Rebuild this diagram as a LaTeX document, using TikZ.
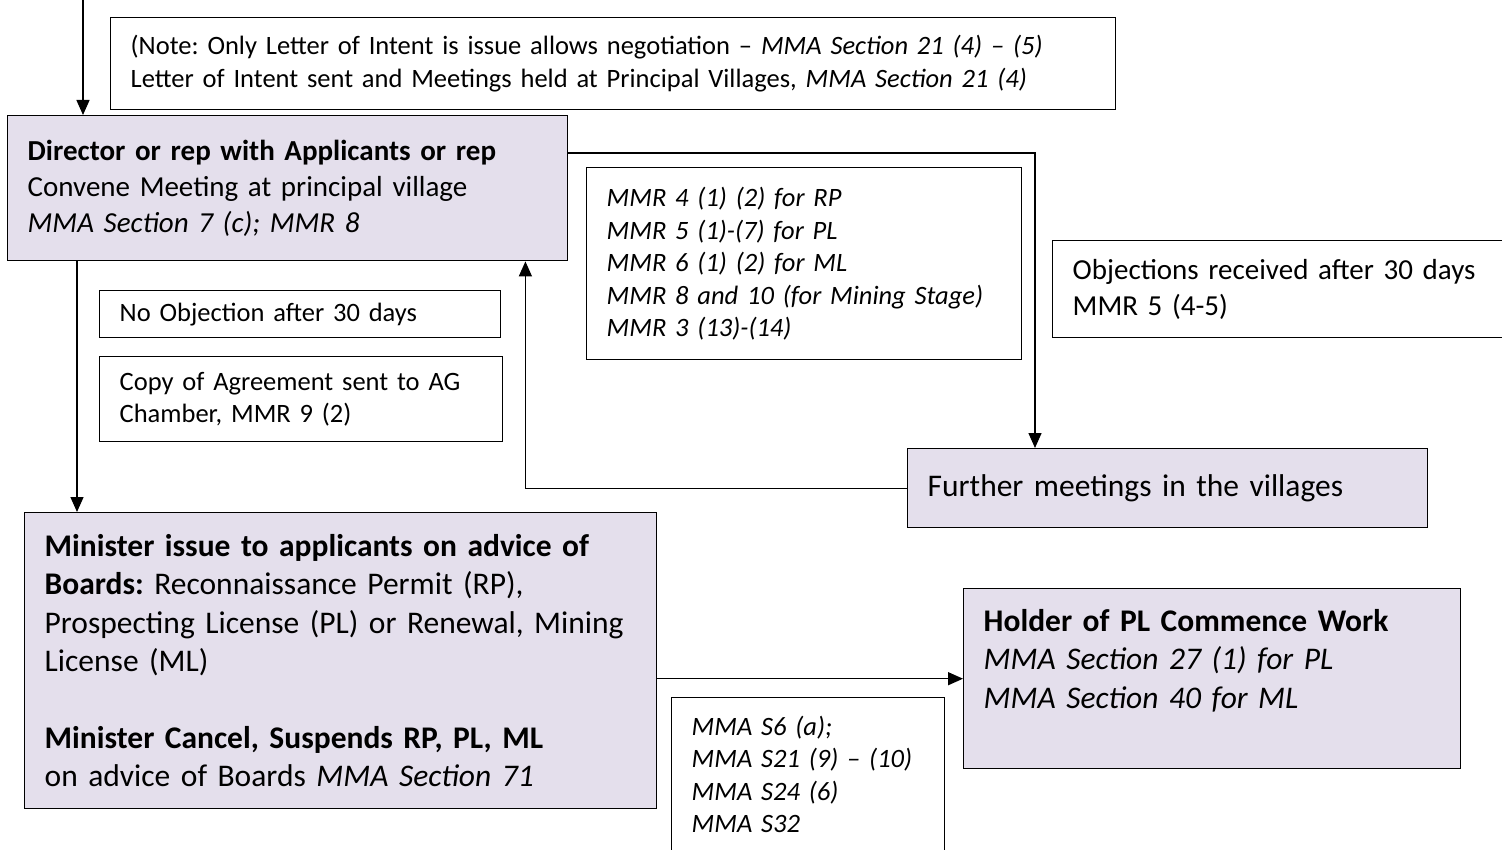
\documentclass[tikz,border=0pt]{standalone}
\usepackage{fontspec}
\setmainfont{Carlito}
\frenchspacing
\usetikzlibrary{positioning,arrows.meta}
\definecolor{boxlav}{RGB}{228,223,236}
\newcommand\txtsmall{\fontsize{26.5}{32.5}\selectfont}
\newcommand\txtmid{\fontsize{29}{36}\selectfont}
\newcommand\txtlarge{\fontsize{31.5}{38.5}\selectfont}

\begin{document}
\begin{tikzpicture}[x=1pt, y=-1pt, line width=1.4pt,
    >={Triangle[length=15pt,width=13pt]},
    notebox/.style={draw, anchor=north west, align=left, inner xsep=20pt,
                    inner ysep=4pt, font=\txtsmall},
    stepbox/.style={notebox, fill=boxlav},
    refbox/.style={notebox, font=\txtsmall\itshape}
]
\useasboundingbox (0,0) rectangle (1502,850);

% --- Main steps ---
\node[stepbox, font=\txtmid, text width=520pt, minimum height=145pt] (director) at (7,115)
    {\textbf{Director or rep with Applicants or rep}\\
     Convene Meeting at principal village\\
     \textit{MMA Section 7 (c); MMR 8}};
\node[stepbox, font=\txtlarge, text width=480pt, minimum height=79pt] (further) at (907,448)
    {Further meetings in the villages};
\node[stepbox, font=\txtlarge, text width=592pt, minimum height=296pt] (minister) at (24,512)
    {\textbf{Minister issue to applicants on advice of}\\
     \textbf{Boards:} Reconnaissance Permit (RP),\\
     Prospecting License (PL) or Renewal, Mining\\
     License (ML)\\[38pt]
     \textbf{Minister Cancel, Suspends RP, PL, ML}\\
     on advice of Boards \textit{MMA Section 71}};
\node[stepbox, font=\txtlarge, text width=457pt, minimum height=180pt] (holder) at (963,588)
    {\textbf{Holder of PL Commence Work}\\
     \textit{MMA Section 27 (1) for PL}\\
     \textit{MMA Section 40 for ML}\\[1.5pt]
     \mbox{}};

% --- Notes ---
\node[notebox, text width=965pt, minimum height=92pt] (intent) at (110,17)
    {(Note: Only Letter of Intent is issue allows negotiation – \textit{MMA Section 21 (4) – (5)}\\
     Letter of Intent sent and Meetings held at Principal Villages, \textit{MMA Section 21 (4)}};
\node[refbox, text width=395pt, minimum height=192pt] (mmr) at (586,167)
    {MMR 4 (1) (2) for RP\\
     MMR 5 (1)-(7) for PL\\
     MMR 6 (1) (2) for ML\\
     MMR 8 and 10 (for Mining Stage)\\
     MMR 3 (13)-(14)};
\node[notebox, font=\txtmid, text width=420pt, minimum height=97pt] (objections) at (1052,240)
    {Objections received after 30 days\\
     MMR 5 (4-5)};
\node[notebox, text width=361pt, minimum height=47pt] (noobj) at (99,290)
    {No Objection after 30 days};
\node[notebox, text width=363pt, minimum height=85pt] (copyag) at (99,356)
    {Copy of Agreement sent to AG\\
     Chamber, MMR 9 (2)};
\node[refbox, text width=233pt, minimum height=153pt] (mmas) at (671,697)
    {MMA S6 (a);\\
     MMA S21 (9) – (10)\\
     MMA S24 (6)\\
     MMA S32};

% --- Arrows ---
\coordinate (entry) at (83,0);
\draw[->] (entry) -- (entry |- director.north);
\draw[->] ([xshift=70pt]director.south west) -- ([xshift=70pt]director.south west |- minister.north);
\draw[->] ([yshift=-38pt]director.north east) -| ([xshift=128pt]further.north west);
\draw[->] (further.west) -| ([xshift=-43pt]director.south east);
\draw[->] (minister.east |- holder.west) -- (holder.west);

\end{tikzpicture}
\end{document}
